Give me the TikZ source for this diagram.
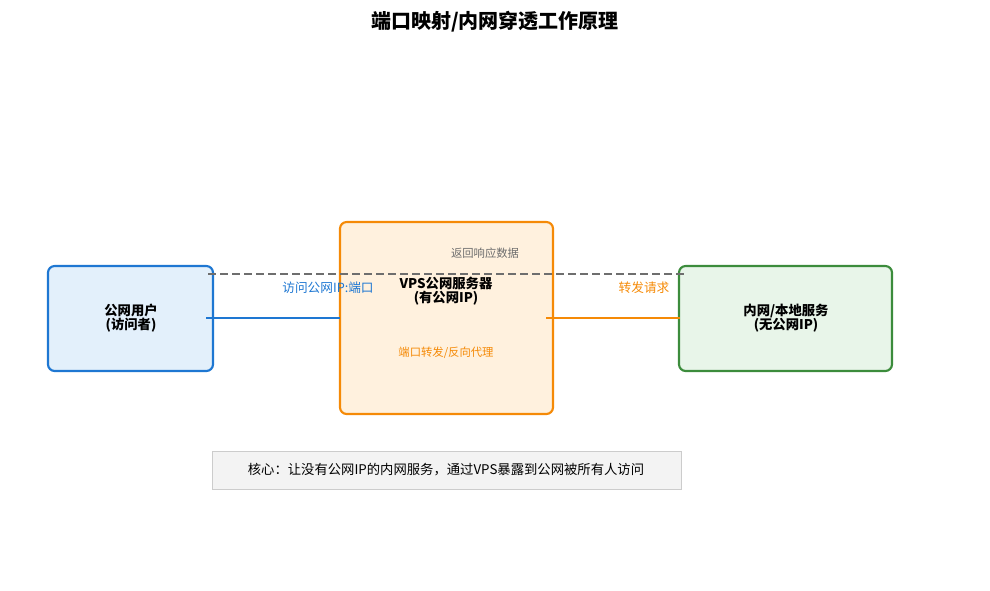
\documentclass[tikz,border=0pt]{standalone}
\usepackage{fontspec}
\setmainfont{Noto Sans CJK SC}
\definecolor{userblue}{HTML}{1E77D2}
\definecolor{userfill}{HTML}{E3F0FB}
\definecolor{vpsorange}{HTML}{F58A07}
\definecolor{vpsfill}{HTML}{FFF1DE}
\definecolor{localgreen}{HTML}{3C8C3C}
\definecolor{localfill}{HTML}{E8F5E9}
\definecolor{notegray}{HTML}{CCCCCC}
\definecolor{notefill}{HTML}{F3F3F3}
\definecolor{backgray}{HTML}{6E6E6E}
\tikzset{
	box/.style={rounded corners=5pt, line width=1.6pt},
	boxtext/.style={font=\fontsize{10}{10.5}\selectfont\bfseries, align=center, inner sep=0.75pt},
	lbl/.style={font=\fontsize{9.5}{11}\selectfont, inner sep=0.75pt},
	link/.style={line width=1.6pt}
}
\begin{document}
\begin{tikzpicture}[x=0.75pt,y=0.75pt,yscale=-1,xscale=1]
			\useasboundingbox (0,0) rectangle (990,590);
			
			% Title
			\node (title) at (495,22) [inner sep=0.75pt, font=\fontsize{15}{16}\selectfont\bfseries] {端口映射/内网穿透工作原理};
			
			% Boxes
			\draw [box, draw=userblue, fill=userfill] (48,266) rectangle (213,371);
			\draw [box, draw=vpsorange, fill=vpsfill] (340,222) rectangle (553,414);
			\draw [box, draw=localgreen, fill=localfill] (679,266) rectangle (892,371);
			\draw [draw=notegray, fill=notefill] (212,451) rectangle (681,489);
			
			% Box texts
			\node (user) at (131,318) [boxtext] {公网用户\\(访问者)};
			\node (vps) at (446,291) [boxtext] {VPS公网服务器\\(有公网IP)};
			\node (local) at (786,318) [boxtext] {内网/本地服务\\(无公网IP)};
			\node (note) at (446,470) [lbl, font=\fontsize{10}{11}\selectfont] {核心：让没有公网IP的内网服务，通过VPS暴露到公网被所有人访问};
			
			% Connectors
			\coordinate (userR) at (206,318);
			\coordinate (vpsL) at (340,318);
			\coordinate (vpsR) at (546,318);
			\coordinate (localL) at (680,318);
			\coordinate (backL) at (208,274);
			\coordinate (backR) at (686,274);
			\draw [link, userblue] (userR) -- (vpsL);
			\draw [link, vpsorange] (vpsR) -- (localL);
			\draw [line width=1.6pt, backgray, dash pattern=on 6pt off 3pt] (backL) -- (backR);
			
			% Labels
			\node (visit) at (328,288) [lbl, text=userblue] {访问公网IP:端口};
			\node (fwd) at (644,288) [lbl, text=vpsorange] {转发请求};
			\node (back) at (485,253) [lbl, text=backgray, font=\fontsize{8.5}{10}\selectfont] {返回响应数据};
			\node (proxy) at (446,353) [lbl, text=vpsorange, font=\fontsize{8.5}{10}\selectfont] {端口转发/反向代理};
			
\end{tikzpicture}
\end{document}
